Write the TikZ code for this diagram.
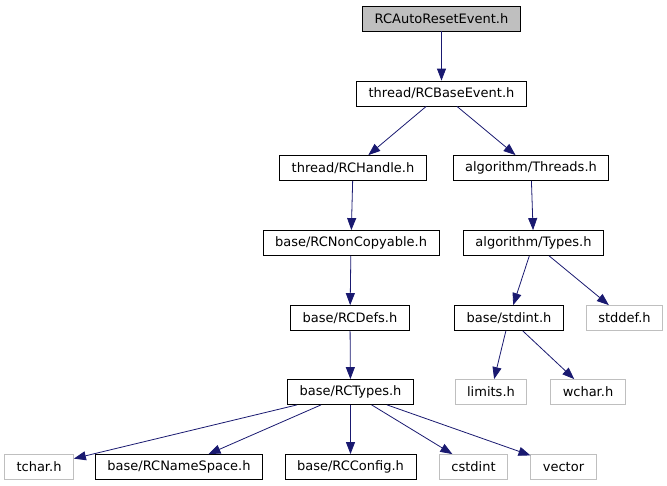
\documentclass[tikz,border=0pt]{standalone}
\usepackage{fontspec}
\setmainfont{DejaVu Sans}
\usetikzlibrary{arrows.meta, positioning}
\definecolor{edgeblue}{HTML}{191970}
\definecolor{sysgray}{HTML}{BFBFBF}

\begin{document}
\begin{tikzpicture}[
    x=1pt, y=-1pt,
    header/.style={rectangle, draw=black, fill=white, line width=0.8pt, font=\fontsize{13}{15}\selectfont, minimum height=25pt, inner xsep=12pt, inner ysep=0pt},
    current/.style={header, fill=sysgray},
    sysheader/.style={header, draw=sysgray},
    arrow/.style={-{Triangle[length=12pt, width=9pt]}, edgeblue, line width=0.8pt}
]
\useasboundingbox (0,0) rectangle (667,485);

\node[current] (autoreset) at (441.5,18.5) {RCAutoResetEvent.h};
\node[header] (baseevent) at (441.5,93.5) {thread/RCBaseEvent.h};
\node[header] (handle) at (353,168) {thread/RCHandle.h};
\node[header] (threads) at (531,168) {algorithm/Threads.h};
\node[header] (noncopy) at (351,243) {base/RCNonCopyable.h};
\node[header] (algtypes) at (533.5,243) {algorithm/Types.h};
\node[header] (defs) at (350,318) {base/RCDefs.h};
\node[header] (stdint) at (509,318) {base/stdint.h};
\node[sysheader] (stddef) at (624.5,318) {stddef.h};
\node[header] (rctypes) at (350.5,392) {base/RCTypes.h};
\node[sysheader] (limits) at (491,392) {limits.h};
\node[sysheader] (wchar) at (588,392) {wchar.h};
\node[sysheader] (tchar) at (39,467) {tchar.h};
\node[header] (namespace) at (179,467) {base/RCNameSpace.h};
\node[header] (config) at (350.5,467) {base/RCConfig.h};
\node[sysheader] (cstdint) at (473.5,467) {cstdint};
\node[sysheader] (vector) at (563.5,467) {vector};

\draw[arrow] (autoreset) -- (baseevent);
\draw[arrow] (baseevent) -- (handle);
\draw[arrow] (baseevent) -- (threads);
\draw[arrow] (handle) -- (noncopy);
\draw[arrow] (threads) -- (algtypes);
\draw[arrow] (noncopy) -- (defs);
\draw[arrow] (algtypes) -- (stdint);
\draw[arrow] (algtypes) -- (stddef);
\draw[arrow] (defs) -- (rctypes);
\draw[arrow] (stdint) -- (limits);
\draw[arrow] (stdint) -- (wchar);
\draw[arrow] (rctypes) -- (tchar);
\draw[arrow] (rctypes) -- (namespace);
\draw[arrow] (rctypes) -- (config);
\draw[arrow] (rctypes) -- (cstdint);
\draw[arrow] (rctypes) -- (vector);

\end{tikzpicture}
\end{document}
